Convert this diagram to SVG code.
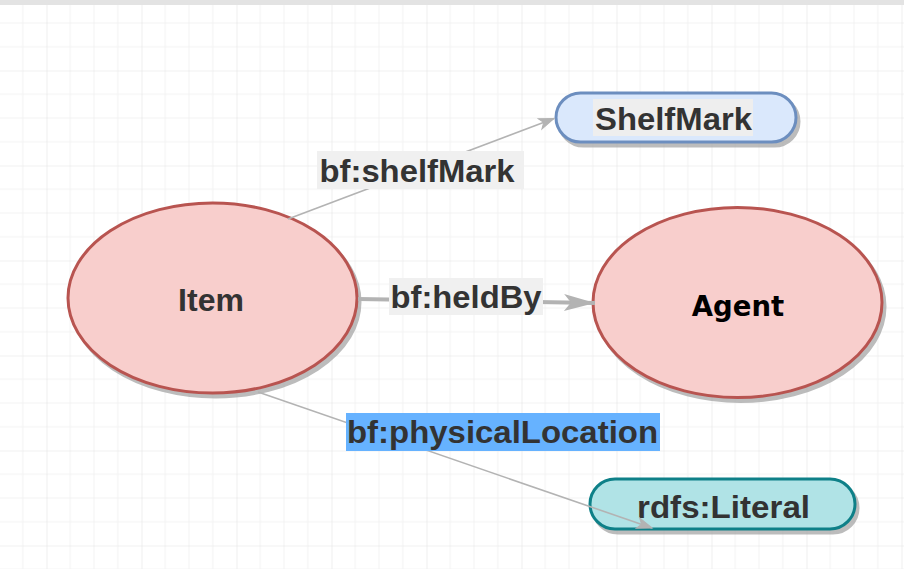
<svg xmlns="http://www.w3.org/2000/svg" width="904" height="569" viewBox="0 0 904 569">
<defs>
<pattern id="grid" patternUnits="userSpaceOnUse" x="46.5" y="70.5" width="95" height="95">
<path d="M23.75 0V95M47.5 0V95M71.25 0V95M0 23.75H95M0 47.5H95M0 71.25H95" stroke="#f2f2f2" stroke-width="1" fill="none"/>
<path d="M0 0V95M0 0H95" stroke="#e4e4e4" stroke-width="1.2" fill="none"/>
</pattern>
<marker id="arrThin" markerUnits="userSpaceOnUse" markerWidth="20" markerHeight="14" refX="16" refY="7" orient="auto" viewBox="0 0 20 14">
<path d="M16 7L1 1.5L5 7L1 12.5Z" fill="#b3b3b3" stroke="#b3b3b3" stroke-width="1"/>
</marker>
<marker id="arrThick" markerUnits="userSpaceOnUse" markerWidth="34" markerHeight="20" refX="32" refY="10" orient="auto" viewBox="0 0 34 20">
<path d="M32 10L1 1.5L8 10L1 18.5Z" fill="#b3b3b3"/>
</marker>
</defs>
<style>
.lbl{font-family:"Liberation Sans",Arial,sans-serif;font-weight:bold;font-size:32px;fill:#333333;text-anchor:middle}
.agent{font-family:"DejaVu Sans",Verdana,sans-serif;font-weight:bold;font-size:27.5px;fill:#000000;text-anchor:middle}
.edge{fill:none;stroke:#b3b3b3}
.shadow{fill:#a6a6a6;stroke:#a6a6a6;stroke-width:3;opacity:0.75}
.ell{fill:#f8cecc;stroke:#b85450;stroke-width:3}
</style>
<rect width="904" height="569" fill="#ffffff"/>
<rect width="904" height="569" fill="url(#grid)"/>
<rect width="904" height="5" fill="#e3e3e3"/>

<g id="node-item">
<ellipse class="shadow" cx="215.5" cy="302" rx="144.5" ry="95"/>
<ellipse class="ell" cx="212.5" cy="298" rx="144.5" ry="95"/>
<text class="lbl" x="211" y="311">Item</text>
</g>

<g id="node-agent">
<ellipse class="shadow" cx="740.5" cy="306.5" rx="144.5" ry="95"/>
<ellipse class="ell" cx="737.5" cy="302.5" rx="144.5" ry="95"/>
<text class="agent" x="738" y="316">Agent</text>
</g>

<g id="node-shelfmark">
<rect class="shadow" x="559" y="97" width="240" height="49" rx="24.5"/>
<rect x="556" y="93" width="240" height="49" rx="24.5" fill="#dae8fc" stroke="#6c8ebf" stroke-width="3"/>
<rect x="593" y="99" width="160" height="37" fill="#eeeeee"/>
<text class="lbl" x="673.5" y="130" textLength="157" lengthAdjust="spacingAndGlyphs">ShelfMark</text>
</g>

<g id="node-literal">
<rect class="shadow" x="593" y="483" width="265" height="50" rx="25"/>
<rect x="590" y="479" width="265" height="50" rx="25" fill="#b0e3e6" stroke="#0e8088" stroke-width="3"/>
<text class="lbl" x="723.5" y="518" textLength="173" lengthAdjust="spacingAndGlyphs">rdfs:Literal</text>
</g>

<g id="connectors">
<line class="edge" x1="288" y1="219" x2="554" y2="118.5" stroke-width="1.6" marker-end="url(#arrThin)"/>
<line class="edge" x1="358" y1="299" x2="595" y2="303" stroke-width="4" marker-end="url(#arrThick)"/>
<line class="edge" x1="258" y1="392" x2="652" y2="528" stroke-width="1.6" marker-end="url(#arrThin)"/>
</g>

<g id="label-shelfMark">
<rect x="317" y="151" width="207" height="38" fill="#f0f0f0"/>
<text class="lbl" x="417" y="182" textLength="195" lengthAdjust="spacingAndGlyphs">bf:shelfMark</text>
</g>
<g id="label-heldBy">
<rect x="389" y="278" width="154" height="37" fill="#f0f0f0"/>
<text class="lbl" x="466" y="308" textLength="151" lengthAdjust="spacingAndGlyphs">bf:heldBy</text>
</g>
<g id="label-physicalLocation">
<rect x="346" y="413" width="314" height="38" fill="#66b2ff"/>
<text class="lbl" x="502.5" y="443" textLength="311" lengthAdjust="spacingAndGlyphs">bf:physicalLocation</text>
</g>
</svg>
